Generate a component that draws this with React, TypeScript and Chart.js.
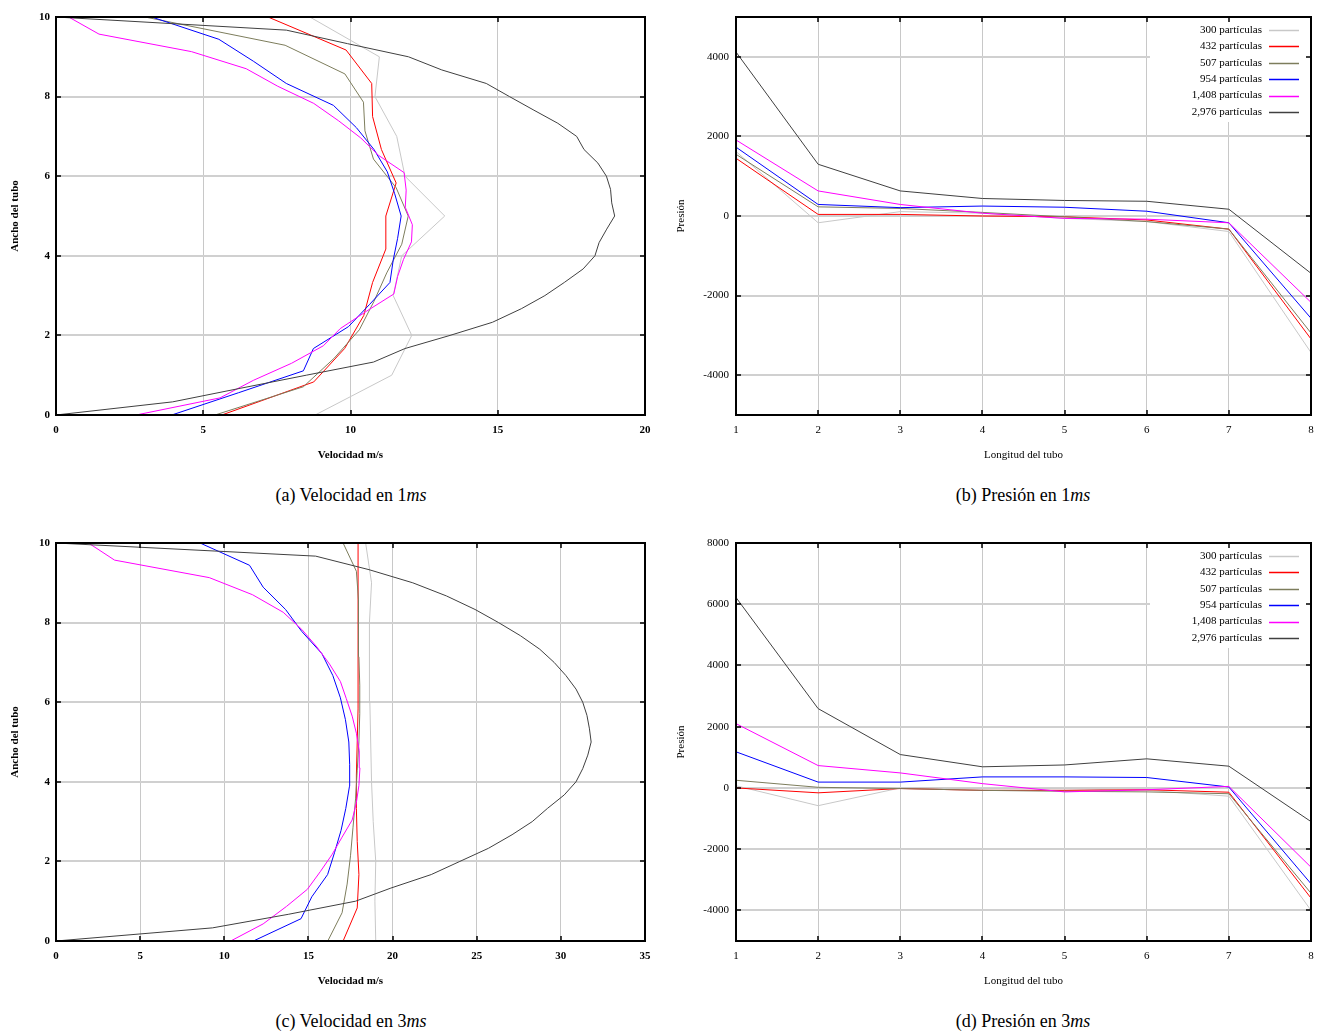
import React, { useEffect, useRef } from 'react';
import { Chart, registerables } from 'chart.js';

Chart.register(...registerables);

const FONT = '"Liberation Serif", "Times New Roman", serif';

// ---------- series identity ----------
const SERIES_LABELS = ['300 partículas', '432 partículas', '507 partículas', '954 partículas', '1,408 partículas', '2,976 partículas'];
const SERIES_COLORS = ['#c8c8c8', '#ff0000', '#7d7d5c', '#0000ff', '#ff00ff', '#404040'];

// ---------- tube width positions (y values of each velocity profile) ----------
const W300 = [0, 1, 2, 3, 4, 5, 6, 7, 8, 9, 10];
const W432 = [0, 0.83, 1.67, 2.5, 3.33, 4.17, 5, 5.83, 6.67, 7.5, 8.33, 9.17, 10];
const W507 = [0, 0.71, 1.43, 2.14, 2.86, 3.57, 4.29, 5, 5.71, 6.43, 7.14, 7.86, 8.57, 9.29, 10];
const W954 = [0, 0.56, 1.11, 1.67, 2.22, 2.78, 3.33, 3.89, 4.44, 5, 5.56, 6.11, 6.67, 7.22, 7.78, 8.33, 8.89, 9.44, 10];
const W1408 = [0, 0.43, 0.87, 1.3, 1.74, 2.17, 2.61, 3.04, 3.48, 3.91, 4.35, 4.78, 5.22, 5.65, 6.09, 6.52, 6.96, 7.39, 7.83, 8.26, 8.7, 9.13, 9.57, 10];
const W2976 = [0, 0.33, 0.67, 1, 1.33, 1.67, 2, 2.33, 2.67, 3, 3.33, 3.67, 4, 4.33, 4.67, 5, 5.33, 5.67, 6, 6.33, 6.67, 7, 7.33, 7.67, 8, 8.33, 8.67, 9, 9.33, 9.67, 10];

// ---------- (a) velocity at 1 ms ----------
const VA300 = [8.8, 11.4, 12.08, 11.45, 11.74, 13.2, 11.85, 11.57, 10.83, 10.98, 8.62];
const VA432 = [5.63, 8.75, 9.8, 10.45, 10.75, 11.2, 11.2, 11.55, 11.05, 10.75, 10.72, 9.85, 7.2];
const VA507 = [5.4, 8.4, 9.45, 10.3, 10.8, 11.23, 11.74, 11.96, 11.55, 10.78, 10.49, 10.44, 9.81, 7.78, 3.02];
const VA954 = [3.93, 6.2, 8.4, 8.74, 9.93, 10.65, 11.34, 11.45, 11.6, 11.72, 11.5, 11.25, 10.8, 10.2, 9.42, 7.82, 6.7, 5.53, 3.25];
const VA1408 = [2.72, 5.57, 6.7, 8.0, 9.08, 9.65, 10.55, 11.47, 11.6, 11.8, 12.07, 12.1, 11.86, 11.89, 11.82, 10.96, 10.35, 9.6, 8.75, 7.53, 6.46, 4.6, 1.46, 0.43];
const VA2976 = [0, 3.96, 6.25, 8.5, 10.78, 11.85, 13.38, 14.82, 15.8, 16.6, 17.26, 17.9, 18.3, 18.44, 18.7, 18.97, 18.87, 18.83, 18.69, 18.4, 17.93, 17.68, 17.04, 16.2, 15.4, 14.61, 13.1, 11.97, 9.9, 7.82, 0];

// ---------- (c) velocity at 3 ms ----------
const VC300 = [19.0, 18.95, 19.0, 18.85, 18.75, 18.7, 18.65, 18.65, 18.6, 18.75, 18.4];
const VC432 = [17.06, 17.9, 18.0, 17.9, 17.85, 17.85, 17.9, 17.95, 17.95, 17.95, 17.95, 17.95, 17.95];
const VC507 = [16.15, 17.0, 17.3, 17.5, 17.65, 17.8, 17.9, 18.0, 18.05, 18.05, 18.0, 18.0, 17.95, 17.85, 17.06];
const VC954 = [11.73, 14.56, 15.2, 16.14, 16.55, 16.94, 17.22, 17.44, 17.45, 17.4, 17.2, 16.9, 16.45, 15.8, 14.6, 13.64, 12.31, 11.5, 8.56];
const VC1408 = [10.38, 12.31, 13.7, 14.94, 15.7, 16.4, 17.0, 17.6, 17.85, 18.0, 18.06, 18.02, 17.85, 17.6, 17.25, 16.9, 16.25, 15.5, 14.6, 13.5, 11.68, 9.11, 3.48, 1.93];
const VC2976 = [0, 9.3, 13.8, 17.8, 19.9, 22.3, 24.0, 25.7, 27.1, 28.3, 29.2, 30.2, 30.9, 31.3, 31.6, 31.8, 31.7, 31.55, 31.3, 30.9, 30.3, 29.6, 28.75, 27.6, 26.3, 24.9, 23.2, 21.2, 18.6, 15.43, 0];

// ---------- pressure along the tube ----------
const TUBE_X = ['1', '2', '3', '4', '5', '6', '7', '8'];

const PB300 = [1620, -170, 110, 70, -60, -140, -390, -3430];
const PB432 = [1450, 40, 40, 0, -20, -100, -330, -3090];
const PB507 = [1550, 230, 190, 90, -20, -140, -330, -2940];
const PB954 = [1730, 290, 210, 250, 220, 120, -170, -2570];
const PB1408 = [1910, 630, 290, 70, -60, -80, -170, -2170];
const PB2976 = [4120, 1300, 630, 440, 390, 370, 170, -1440];

const PD300 = [70, -580, 0, -30, -30, -80, -270, -4000];
const PD432 = [0, -160, -20, -80, -80, -60, -140, -3600];
const PD507 = [250, 20, -20, -80, -110, -130, -190, -3440];
const PD954 = [1180, 190, 190, 360, 360, 340, 30, -3130];
const PD1408 = [2100, 730, 490, 140, -130, -60, 50, -2590];
const PD2976 = [6220, 2590, 1090, 690, 750, 950, 710, -1100];

// ---------- tick values ----------
const VEL_Y_TICKS = [0, 2, 4, 6, 8, 10];
const VEL_A_X_TICKS = [0, 5, 10, 15, 20];
const VEL_C_X_TICKS = [0, 5, 10, 15, 20, 25, 30, 35];
const PRES_B_Y_TICKS = [-4000, -2000, 0, 2000, 4000];
const PRES_D_Y_TICKS = [-4000, -2000, 0, 2000, 4000, 6000, 8000];

const WIDTHS = [W300, W432, W507, W954, W1408, W2976];

type PanelOpts = {
  bold: boolean;
  xTitle: string;
  yTitle: string;
  yTitleX: number;
  legend: boolean;
};

function gnuplotPlugin(o: PanelOpts) {
  return {
    id: 'gnuplotLook',
    beforeDatasetsDraw(chart: any) {
      if (!o.legend) return;
      const { ctx, chartArea } = chart;
      ctx.save();
      ctx.fillStyle = '#ffffff';
      ctx.fillRect(chartArea.right - 161, chartArea.top + 1, 160, 104);
      ctx.restore();
    },
    afterDatasetsDraw(chart: any) {
      const { ctx, chartArea, scales } = chart;
      const { left, right, top, bottom } = chartArea;
      ctx.save();
      // inward tick marks on all four sides
      ctx.strokeStyle = '#000';
      ctx.lineWidth = 1.5;
      ctx.beginPath();
      const xs = scales.x;
      xs.ticks.forEach((_t: any, i: number) => {
        const px = Math.round(xs.getPixelForTick(i));
        if (px <= left + 1 || px >= right - 1) return;
        ctx.moveTo(px, bottom);
        ctx.lineTo(px, bottom - 5);
        ctx.moveTo(px, top);
        ctx.lineTo(px, top + 5);
      });
      const ys = scales.y;
      ys.ticks.forEach((t: any) => {
        const py = Math.round(ys.getPixelForValue(t.value));
        if (py <= top + 1 || py >= bottom - 1) return;
        ctx.moveTo(left, py);
        ctx.lineTo(left + 5, py);
        ctx.moveTo(right, py);
        ctx.lineTo(right - 5, py);
      });
      ctx.stroke();
      // border
      ctx.lineWidth = 2;
      ctx.strokeRect(left, top, right - left, bottom - top);

      // legend
      if (o.legend) {
        ctx.font = `11px ${FONT}`;
        ctx.textAlign = 'right';
        ctx.textBaseline = 'middle';
        chart.data.datasets.forEach((ds: any, i: number) => {
          const y = top + 13 + i * 16.4;
          ctx.fillStyle = '#000';
          ctx.fillText(ds.label, right - 49, y);
          ctx.strokeStyle = ds.borderColor;
          ctx.lineWidth = 1.5;
          ctx.beginPath();
          ctx.moveTo(right - 42, Math.round(y) + 0.5);
          ctx.lineTo(right - 12, Math.round(y) + 0.5);
          ctx.stroke();
        });
      }

      // axis titles
      ctx.fillStyle = '#000';
      ctx.font = `${o.bold ? 'bold ' : ''}11px ${FONT}`;
      ctx.textAlign = 'center';
      ctx.textBaseline = 'middle';
      ctx.fillText(o.xTitle, (left + right) / 2, bottom + 40);
      ctx.translate(o.yTitleX, (top + bottom) / 2);
      ctx.rotate(-Math.PI / 2);
      ctx.fillText(o.yTitle, 0, 0);
      ctx.restore();
    },
  };
}

function baseScales(bold: boolean, yPad: number, yWidth: number) {
  const font = { family: FONT, size: 11, weight: bold ? ('bold' as const) : ('normal' as const) };
  return {
    x: {
      ticks: { font, color: '#000', padding: 9, maxRotation: 0, autoSkip: false },
      grid: { color: '#c8c8c8', lineWidth: 1, drawTicks: false },
      border: { display: false },
      afterFit: (s: any) => { s.height = 55; },
    },
    y: {
      ticks: { font, color: '#000', padding: yPad, callback: (v: any) => String(v) },
      grid: { color: '#d0d0d0', lineWidth: 2, drawTicks: false },
      border: { display: false },
      afterFit: (s: any) => { s.width = yWidth; },
    },
  };
}

function velocityConfig(vels: number[][], xMax: number, xTicks: number[]) {
  const sc: any = baseScales(true, 6, 56);
  sc.x = {
    ...sc.x, type: 'linear', min: 0, max: xMax,
    afterBuildTicks: (s: any) => { s.ticks = xTicks.map((v) => ({ value: v })); },
  };
  sc.y = {
    ...sc.y, type: 'linear', min: 0, max: 10,
    afterBuildTicks: (s: any) => { s.ticks = VEL_Y_TICKS.map((v) => ({ value: v })); },
  };
  return {
    type: 'scatter',
    data: {
      datasets: vels.map((vx, i) => ({
        label: SERIES_LABELS[i],
        data: vx.map((v, j) => ({ x: v, y: WIDTHS[i][j] })),
        showLine: true,
        borderColor: SERIES_COLORS[i],
        backgroundColor: SERIES_COLORS[i],
        borderWidth: 1,
        pointRadius: 0,
        tension: 0,
        order: 6 - i,
      })),
    },
    options: {
      responsive: false,
      animation: false,
      layout: { padding: { top: 17, right: 17, left: 0, bottom: 0 } },
      plugins: { legend: { display: false }, tooltip: { enabled: false } },
      scales: sc,
    },
    plugins: [gnuplotPlugin({ bold: true, xTitle: 'Velocidad m/s', yTitle: 'Ancho del tubo', yTitleX: 15, legend: false })],
  };
}

function pressureConfig(series: number[][], yMin: number, yMax: number, yTicks: number[]) {
  const sc: any = baseScales(false, 7, 74);
  sc.x = { ...sc.x, type: 'category', offset: false };
  sc.y = {
    ...sc.y, type: 'linear', min: yMin, max: yMax,
    afterBuildTicks: (s: any) => { s.ticks = yTicks.map((v) => ({ value: v })); },
  };
  return {
    type: 'line',
    data: {
      labels: TUBE_X,
      datasets: series.map((vals, i) => ({
        label: SERIES_LABELS[i],
        data: vals,
        borderColor: SERIES_COLORS[i],
        backgroundColor: SERIES_COLORS[i],
        borderWidth: 1,
        pointRadius: 0,
        tension: 0,
        fill: false,
        order: 6 - i,
      })),
    },
    options: {
      responsive: false,
      animation: false,
      layout: { padding: { top: 17, right: 14, left: 0, bottom: 0 } },
      plugins: { legend: { display: false }, tooltip: { enabled: false } },
      scales: sc,
    },
    plugins: [gnuplotPlugin({ bold: false, xTitle: 'Longitud del tubo', yTitle: 'Presión', yTitleX: 19, legend: true })],
  };
}

function Panel({ left, top, width, height, make }: { left: number; top: number; width: number; height: number; make: () => any }) {
  const ref = useRef<HTMLCanvasElement | null>(null);
  useEffect(() => {
    if (!ref.current) return;
    const chart = new Chart(ref.current, make());
    return () => chart.destroy();
  }, []);
  return (
    <canvas
      ref={ref}
      width={width}
      height={height}
      style={{ position: 'absolute', left, top, width, height }}
    />
  );
}

function Caption({ cx, top, letter, name, t }: { cx: number; top: number; letter: string; name: string; t: string }) {
  return (
    <div
      style={{
        position: 'absolute', left: cx - 200, top, width: 400, textAlign: 'center',
        fontFamily: FONT, fontSize: 18, lineHeight: '20px', color: '#000', whiteSpace: 'nowrap',
      }}
    >
      ({letter}) {name} en {t}<i>ms</i>
    </div>
  );
}

export default function App() {
  return (
    <div style={{ position: 'absolute', left: 0, top: 0, width: 1325, height: 1035, background: '#fff', overflow: 'hidden' }}>
      <Panel left={0} top={0} width={662} height={470}
        make={() => velocityConfig([VA300, VA432, VA507, VA954, VA1408, VA2976], 20, VEL_A_X_TICKS)} />
      <Panel left={662} top={0} width={663} height={470}
        make={() => pressureConfig([PB300, PB432, PB507, PB954, PB1408, PB2976], -5000, 5000, PRES_B_Y_TICKS)} />
      <Panel left={0} top={526} width={662} height={470}
        make={() => velocityConfig([VC300, VC432, VC507, VC954, VC1408, VC2976], 35, VEL_C_X_TICKS)} />
      <Panel left={662} top={526} width={663} height={470}
        make={() => pressureConfig([PD300, PD432, PD507, PD954, PD1408, PD2976], -5000, 8000, PRES_D_Y_TICKS)} />
      <Caption cx={351} top={485} letter="a" name="Velocidad" t="1" />
      <Caption cx={1023} top={485} letter="b" name="Presión" t="1" />
      <Caption cx={351} top={1011} letter="c" name="Velocidad" t="3" />
      <Caption cx={1023} top={1011} letter="d" name="Presión" t="3" />
    </div>
  );
}
